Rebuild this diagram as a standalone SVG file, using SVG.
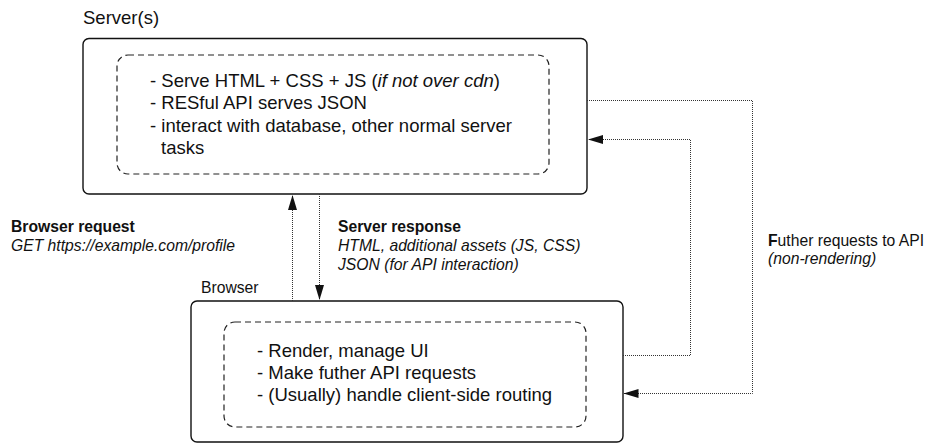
<svg xmlns="http://www.w3.org/2000/svg" width="928" height="444" viewBox="0 0 928 444">
<defs>
<style>
text{font-family:"Liberation Sans",Arial,Helvetica,sans-serif;fill:#111}
.body{font-size:18.5px}
.lbl{font-size:15.7px}
.b{font-weight:bold}
.i{font-style:italic}
.box{fill:#fff;stroke:#111;stroke-width:1.4}
.dash{fill:none;stroke:#222;stroke-width:1.2;stroke-dasharray:6 4}
.dot{fill:none;stroke:#333;stroke-width:1;stroke-dasharray:1 1}
</style>
<marker id="ah" markerUnits="userSpaceOnUse" markerWidth="16" markerHeight="9" refX="15" refY="4.5" orient="auto">
<path d="M0,0 L15,4.5 L0,9 z" fill="#111"/>
</marker>
</defs>
<rect width="928" height="444" fill="#fff"/>
<g id="server">
<text class="body" x="83" y="24">Server(s)</text>
<rect class="box" x="83" y="38.5" width="504" height="155.5" rx="6"/>
<rect class="dash" x="117" y="55" width="432" height="119" rx="11"/>
<text class="body" x="150" y="87">- Serve HTML + CSS + JS (<tspan class="i">if not over cdn</tspan>)</text>
<text class="body" x="150" y="109.4">- RESful API serves JSON</text>
<text class="body" x="150" y="131.8">- interact with database, other normal server</text>
<text class="body" x="161" y="154.2">tasks</text>
</g>
<g id="browser">
<text class="lbl" x="201" y="293">Browser</text>
<rect class="box" x="191" y="301" width="432" height="141" rx="6"/>
<rect class="dash" x="224" y="322" width="362" height="105" rx="11"/>
<text class="body" x="257" y="357">- Render, manage UI</text>
<text class="body" x="257" y="379">- Make futher API requests</text>
<text class="body" x="257" y="401">- (Usually) handle client-side routing</text>
</g>
<g id="labels">
<text class="lbl b" x="11" y="232.4">Browser request</text>
<text class="lbl i" x="11" y="251.2">GET https://example.com/profile</text>
<text class="lbl b" x="338" y="232.4">Server response</text>
<text class="lbl i" x="338" y="251.2">HTML, additional assets (JS, CSS)</text>
<text class="lbl i" x="338" y="270">JSON (for API interaction)</text>
<text class="lbl" x="768" y="246"><tspan class="b">F</tspan>uther requests to API</text>
<text class="lbl i" x="768" y="264">(non-rendering)</text>
</g>
<g id="connectors">
<path class="dot" d="M292.5,301 V195" marker-end="url(#ah)"/>
<path class="dot" d="M319.5,194 V300" marker-end="url(#ah)"/>
<path class="dot" d="M587,100.5 H752.5 V393.5 H623.5" marker-end="url(#ah)"/>
<path class="dot" d="M623,355.5 H690.5 V139.5 H588" marker-end="url(#ah)"/>
</g>
</svg>
